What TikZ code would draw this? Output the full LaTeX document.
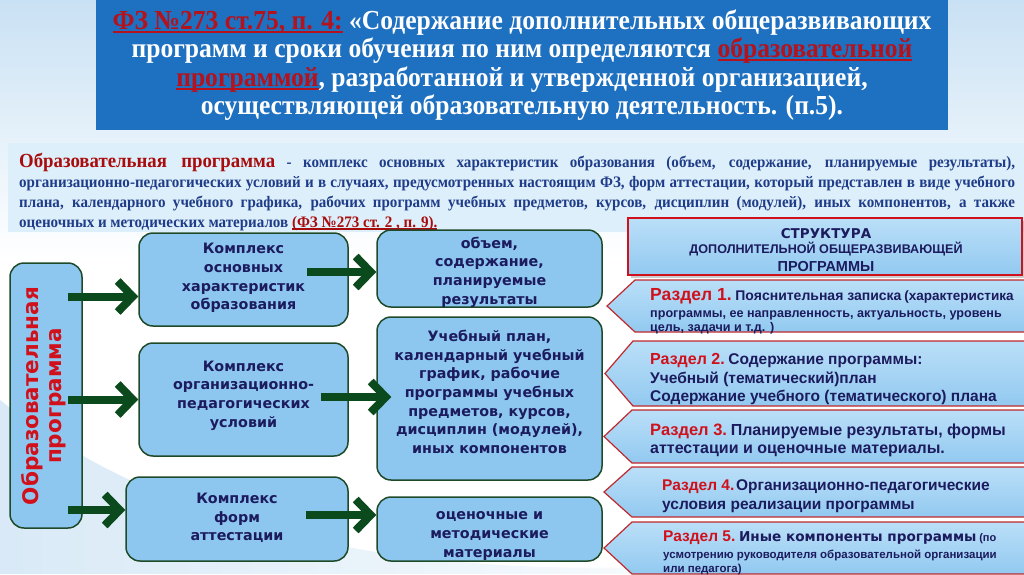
\documentclass[tikz,border=0pt]{standalone}
\usepackage{fontspec}
\setmainfont{Liberation Serif}
\newfontfamily\dvs{DejaVu Sans}
\newfontfamily\lsans{Liberation Sans}
\newfontfamily\lserif{Liberation Serif}
\newfontfamily\tserif[FakeStretch=0.93]{Liberation Serif}
\newfontfamily\pserif[FakeStretch=0.94]{Liberation Serif}
\usetikzlibrary{arrows.meta,calc,shadows}
\definecolor{titleblue}{HTML}{1E70C0}
\definecolor{tred}{HTML}{B5121C}
\definecolor{pblue}{HTML}{1F3C88}
\definecolor{pred}{HTML}{A80C0C}
\definecolor{navy}{HTML}{1B1B5E}
\definecolor{boxblue}{HTML}{8DC6EF}
\definecolor{boxgreen}{HTML}{1E4A2A}
\definecolor{agreen}{HTML}{0B4A1C}
\definecolor{sred}{HTML}{D0111B}
\definecolor{secTop}{HTML}{BADFF8}
\definecolor{secBot}{HTML}{92C9F0}
\definecolor{chevred}{HTML}{C0282D}
\definecolor{bandblue}{HTML}{DDEFFA}
\definecolor{bgA}{HTML}{C9E1F4}
\newcommand\myfs[2]{\fontsize{#1}{#2}\selectfont}
\newcommand\myul[3]{\setbox0=\hbox{#3}\leavevmode\rlap{\rule[-#1]{\wd0}{#2}}\box0}
\newcommand\chev[3]{%
  \shadedraw[top color=secTop, bottom color=secBot, draw=chevred, line width=1.2pt]
    (#3,{(#1+#2)/2}) -- (#3+28,#1) -- (1030,#1) -- (1030,#2) -- (#3+28,#2) -- cycle;}
\begin{document}
\begin{tikzpicture}[x=1pt,y=-1pt,
  box/.style={rectangle, rounded corners=14pt, draw=boxgreen, line width=1.5pt, fill=boxblue, inner sep=0pt},
  btext/.style={font=\dvs\bfseries\myfs{14.3}{18.6}, text=navy, align=center, inner sep=0pt},
  arr/.style={draw=agreen, line width=8pt, -{Straight Barb[length=15pt, width=31pt, line width=8pt]}},
  ttl/.style={font=\tserif\bfseries\myfs{27.5}{28.5}, text=white, anchor=base, inner sep=0pt},
  para/.style={font=\pserif\bfseries\myfs{16}{20}, text=pblue, anchor=base west, inner sep=0pt},
  sec/.style={font=\lsans\bfseries, text=navy, anchor=base west, inner sep=0pt},
  sthead/.style={text=navy, anchor=base, inner sep=0pt}]
\clip (0,0) rectangle (1024,574);
% background
\fill[white] (0,0) rectangle (1024,574);
\shade[top color=bgA, bottom color=white] (0,0) rectangle (1024,260);
\shade[left color=bgA, right color=white, opacity=0.7] (0,400) .. controls (150,520) and (400,600) .. (820,555) -- (820,574) -- (0,574) -- cycle;
% title
\node[fill=titleblue, minimum width=852pt, minimum height=130pt, inner sep=0pt] (T) at (522,65) {};
\node[ttl] (t1) at (522,29) {{\color{tred}\myul{3.5pt}{1.8pt}{ФЗ №273 ст.75, п. 4:}} «Содержание дополнительных общеразвивающих};
\node[ttl] (t2) at (522,57.5) {программ и сроки обучения по ним определяются {\color{tred}\myul{3.5pt}{1.8pt}{образовательной}}};
\node[ttl] (t3) at (522,86) {{\color{tred}\myul{3.5pt}{1.8pt}{программой}}, разработанной и утвержденной организацией,};
\node[ttl] (t4) at (522,114) {осуществляющей образовательную деятельность. (п.5).};
% paragraph band
\node[fill=bandblue, minimum width=1016pt, minimum height=89pt, inner sep=0pt] (PB) at (516,187.5) {};
\node[para] (p1) at (19,167) {\makebox[996pt][s]{{\color{pred}\myfs{20}{20}Образовательная программа} - комплекс основных характеристик образования (объем,  содержание, планируемые результаты),}};
\node[para] (p2) at (19,187) {\makebox[996pt][s]{организационно-педагогических условий и в случаях, предусмотренных настоящим ФЗ, форм аттестации, который представлен в виде учебного}};
\node[para] (p3) at (19,207) {\makebox[996pt][s]{плана, календарного учебного графика, рабочих программ учебных предметов, курсов, дисциплин (модулей), иных компонентов, а также}};
\node[para] (p4) at (19,227) {оценочных и методических материалов {\color{pred}\myul{2.5pt}{1.3pt}{(ФЗ №273 ст. 2 , п. 9).}}};
% right sections
\chev{280}{332}{607}
\chev{341}{406}{605}
\chev{410}{463}{604}
\chev{467}{517}{604}
\chev{522}{574}{604}
% structure header
\node[draw=sred, line width=2.5pt, top color=secTop, bottom color=secBot, minimum width=394pt, minimum height=57pt, inner sep=0pt, drop shadow={shadow xshift=3pt, shadow yshift=-3pt, opacity=0.4}] (ST) at (825,246.5) {};
\node[sthead, font=\dvs\bfseries\myfs{13.5}{15}] (st1) at (826,238) {СТРУКТУРА};
\node[sthead, font=\lsans\bfseries\myfs{12.6}{15}] (st2) at (826,253.5) {ДОПОЛНИТЕЛЬНОЙ ОБЩЕРАЗВИВАЮЩЕЙ};
\node[sthead, font=\lsans\bfseries\myfs{14.5}{15}] (st3) at (826,271) {ПРОГРАММЫ};
% section texts
\node[sec] (s1a) at (650,300) {{\color{sred}\myfs{17.5}{18}Раздел 1.} {\myfs{14}{16}Пояснительная записка} {\myfs{13.5}{14}(характеристика}};
\node[sec] (s1b) at (650,317.5) {\myfs{12.6}{14}программы, ее направленность, актуальность, уровень};
\node[sec] (s1c) at (650,331.5) {\myfs{12.6}{14}цель, задачи и т.д. )};
\node[sec] (s2a) at (650,364) {{\color{sred}\myfs{16}{18}Раздел 2.} {\myfs{15.5}{18}Содержание программы:}};
\node[sec] (s2b) at (650,383) {\myfs{15.5}{18}Учебный (тематический)план};
\node[sec] (s2c) at (650,401) {\myfs{15.5}{18}Содержание учебного (тематического) плана};
\node[sec] (s3a) at (650,435) {{\color{sred}\myfs{16.5}{18}Раздел 3.} {\myfs{16}{18}Планируемые результаты, формы}};
\node[sec] (s3b) at (650,453) {\myfs{16}{18}аттестации и оценочные материалы.};
\node[sec] (s4a) at (662,490) {{\color{sred}\myfs{15.5}{18}Раздел 4.}\,{\myfs{15.5}{18}Организационно-педагогические}};
\node[sec] (s4b) at (662,509) {\myfs{15.5}{18}условия реализации программы};
\node[sec] (s5a) at (663,541.5) {{\color{sred}\myfs{15.5}{18}Раздел 5.} {\dvs\bfseries\myfs{13.6}{18}Иные компоненты программы} {\myfs{11}{13}(по}};
\node[sec] (s5b) at (663,558) {\myfs{11.5}{14}усмотрению руководителя образовательной организации};
\node[sec] (s5c) at (663,572) {\myfs{11.5}{14}или педагога)};
% left column
\node[box, minimum width=72pt, minimum height=265pt] (L) at (46,395.5) {};
\node[rotate=90, font=\dvs\bfseries\myfs{21.5}{23}, text=sred, align=center, inner sep=0pt] (Lt) at (44,396) {Образовательная\\программа};
% middle boxes
\node[box, minimum width=209pt, minimum height=93pt] (A) at (243.5,279.5) {};
\node[btext] (At) at (243.5,278) {Комплекс\\основных\\характеристик\\образования};
\node[box, minimum width=209pt, minimum height=113pt] (B) at (243.5,399.5) {};
\node[btext] (Bt) at (243.5,395.5) {Комплекс\\организационно-\\педагогических\\условий};
\node[box, minimum width=222pt, minimum height=84pt] (E) at (237,519) {};
\node[btext] (Et) at (237,518) {Комплекс\\форм\\аттестации};
% right boxes
\node[box, minimum width=225pt, minimum height=77pt] (C) at (489.5,268.5) {};
\node[btext] (Ct) at (489.5,272) {объем,\\содержание,\\планируемые\\результаты};
\node[box, minimum width=225pt, minimum height=163pt] (D) at (489.5,398.5) {};
\node[btext] (Dt) at (489.5,392) {Учебный план,\\календарный учебный\\график, рабочие\\программы учебных\\предметов, курсов,\\дисциплин (модулей),\\иных компонентов};
\node[box, minimum width=225pt, minimum height=64pt] (F) at (489.5,529) {};
\node[btext] (Ft) at (489.5,536) {оценочные и\\методические\\материалы};
% arrows
\draw[arr] ($(L.east|-A.west)+(-15,17)$) -- ($(A.west)+(0,17)$);
\draw[arr] ($(L.east|-B.west)+(-15,0)$) -- (B.west);
\draw[arr] ($(L.east|-E.west)+(-15,-9)$) -- ($(E.west)+(0,-9)$);
\draw[arr] ($(A.east)+(-42,-7.5)$) -- ($(C.west)+(0,3.5)$);
\draw[arr] ($(B.east)+(-28,-2.5)$) -- ($(D.west)+(15,-1.5)$);
\draw[arr] ($(E.east)+(-43,-4)$) -- ($(F.west)+(0,-14)$);
\end{tikzpicture}
\end{document}
